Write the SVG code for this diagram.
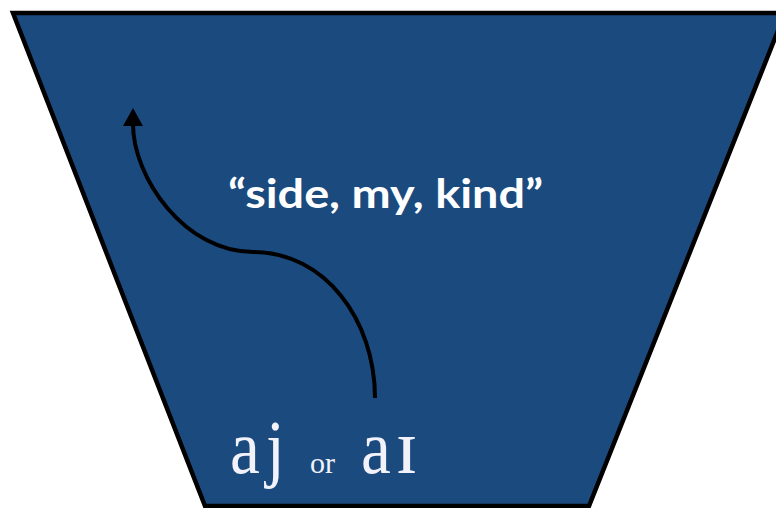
<svg xmlns="http://www.w3.org/2000/svg" width="776" height="508" viewBox="0 0 776 508">
<style>
.shape{fill:#1B4A7F;stroke:#000;stroke-width:4.5;stroke-linejoin:miter}
.conn{fill:none;stroke:#000;stroke-width:4}
.lbl{font-family:Lato,"Open Sans","Liberation Sans",sans-serif;font-weight:bold;font-size:41px;fill:#fff}
.ipa{font-family:"Liberation Serif","DejaVu Serif",serif;fill:#F2F2FA}
</style>
<defs>
<marker id="ah" markerWidth="5" markerHeight="5" refX="0.5" refY="2.5" orient="auto" markerUnits="strokeWidth">
<path d="M0,0 L4.5,2.5 L0,5 Z" fill="#000"/>
</marker>
</defs>
<g id="funnel">
<polygon class="shape" points="13,13 785,13 589,506 205,506"/>
</g>
<g id="connectors">
<path class="conn" d="M375,398 C375,320 325,252 253,252 C185,252 133,178 133,124" marker-end="url(#ah)"/>
</g>
<g id="label">
<text class="lbl" x="228" y="208" textLength="315" lengthAdjust="spacingAndGlyphs">“side, my, kind”</text>
</g>
<g id="ipa">
<text class="ipa" font-size="64" transform="translate(230,473) scale(1.05,1.2)">a<tspan dx="6">j</tspan></text>
<text class="ipa" x="310" y="473" font-size="30">or</text>
<text class="ipa" font-size="64" transform="translate(361,473) scale(1.05,1.2)">a</text>
<text class="ipa" font-size="62" transform="translate(395,473) scale(1.35,1.25)">ɪ</text>
</g>
</svg>
